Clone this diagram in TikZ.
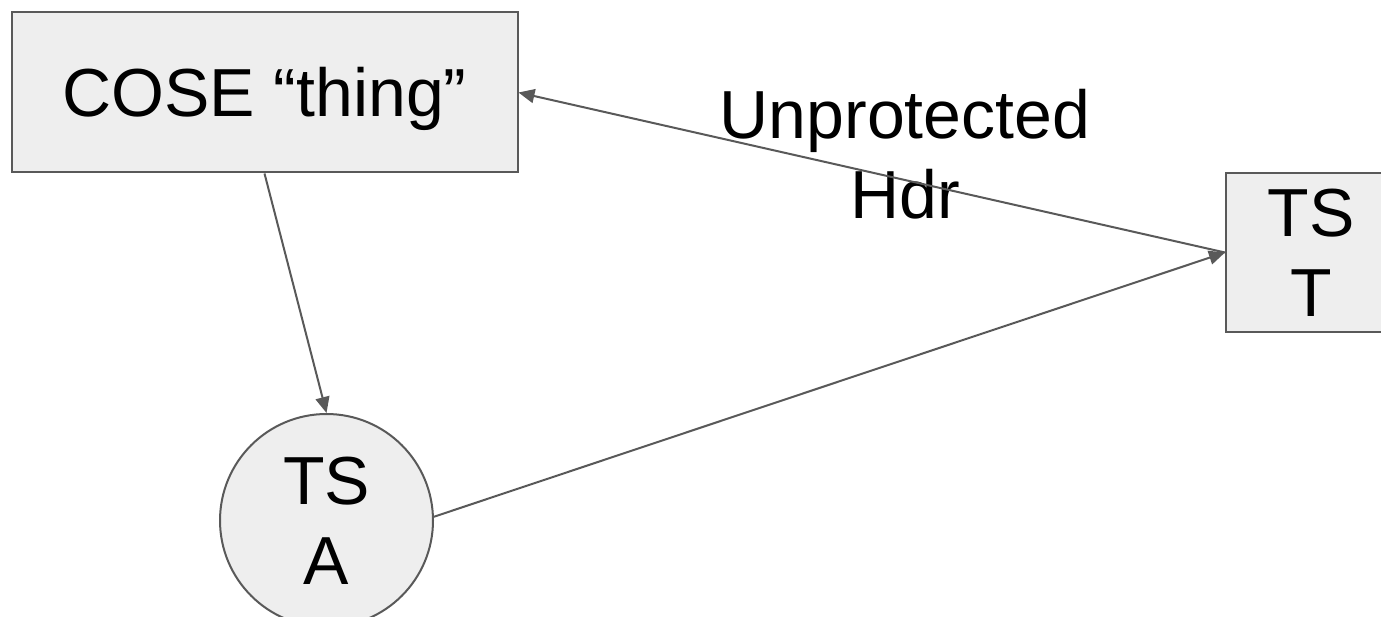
\documentclass[tikz,border=0pt]{standalone}
\usepackage{fontspec}
\setmainfont{Liberation Sans}
\usetikzlibrary{arrows.meta}
\definecolor{boxfill}{HTML}{EEEEEE}
\definecolor{edge}{HTML}{595959}
\tikzset{
  bigtext/.style={font=\fontsize{68}{80}\selectfont, align=center, text=black},
  boxnode/.style={bigtext, draw=edge, line width=2pt, fill=boxfill, rectangle, inner sep=0pt},
  circnode/.style={bigtext, draw=edge, line width=2pt, fill=boxfill, circle, inner sep=0pt},
  conn/.style={draw=edge, line width=2pt, -{Triangle[length=16pt,width=14pt]}},
}
\begin{document}
\begin{tikzpicture}[x=1pt,y=-1pt]
\useasboundingbox (0,0) rectangle (1381,617);
\node[boxnode, minimum width=506pt, minimum height=160pt, text height=49pt, text depth=0pt] (cose) at (264.5,92.5) {COSE “thing”};
\node[boxnode, minimum width=170pt, minimum height=159pt] (tst) at (1311,252.5) {TS\\T};
\node[circnode, minimum size=213pt] (tsa) at (326.5,520.5) {TS\\A};
\node[bigtext, inner sep=0pt] (lbl) at (905,154) {Unprotected\\Hdr};
\draw[conn] (cose.south) -- (tsa.north);
\draw[conn] (tsa.2) -- (tst.west);
\draw[conn] (tst.west) -- (cose.east);
\end{tikzpicture}
\end{document}
